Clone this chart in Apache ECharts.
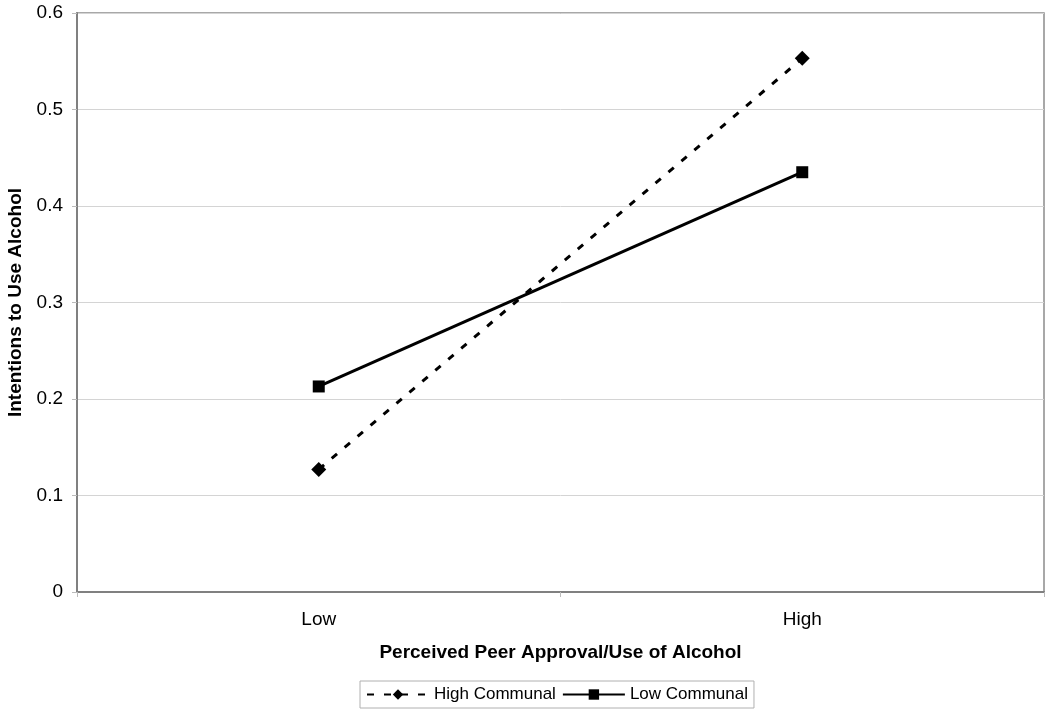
<!DOCTYPE html>
<html>
<head>
<meta charset="utf-8">
<script src="https://cdn.jsdelivr.net/npm/echarts@6/dist/echarts.min.js"></script>
<style>html,body{margin:0;padding:0;background:#fff}#c{width:1050px;height:713px}</style>
</head>
<body>
<div id="c"></div>
<script>
const categories = ['Low', 'High'];
const highCommunal = [0.127, 0.553];
const lowCommunal = [0.213, 0.435];
const seriesNames = ['High Communal', 'Low Communal'];
const xTitle = 'Perceived Peer Approval/Use of Alcohol';
const yTitle = 'Intentions to Use Alcohol';

const chart = echarts.init(document.getElementById('c'));
const font = 'Liberation Sans, Arial, sans-serif';
chart.setOption({
  animation: false,
  textStyle: {fontFamily: font},
  grid: {left: 77, right: 6, top: 13, bottom: 121, show: true, borderColor: '#8c8c8c', borderWidth: 1.5,
         containLabel: false, outerBoundsMode: 'none'},
  legend: {
    top: 681, left: 360,
    data: seriesNames,
    itemWidth: 62, itemHeight: 13, itemGap: 6,
    borderColor: '#b0b0b0', borderWidth: 1, padding: [5, 6, 5, 6],
    textStyle: {fontSize: 17, color: '#000', fontFamily: font}
  },
  xAxis: {
    type: 'category', data: categories, boundaryGap: true,
    name: xTitle, nameLocation: 'middle', nameGap: 51,
    nameTextStyle: {fontSize: 19, fontWeight: 'bold', color: '#000', fontFamily: font},
    axisLine: {lineStyle: {color: '#808080', width: 2}},
    axisTick: {show: true, length: 5, lineStyle: {color: '#bbb'}},
    axisLabel: {fontSize: 19, color: '#000', margin: 18, fontFamily: font},
    splitLine: {show: false}
  },
  yAxis: {
    type: 'value', min: 0, max: 0.6, interval: 0.1,
    name: yTitle, nameLocation: 'middle', nameGap: 50,
    nameTextStyle: {fontSize: 19, fontWeight: 'bold', color: '#000', fontFamily: font},
    axisLine: {show: true, lineStyle: {color: '#808080', width: 2}},
    axisTick: {show: true, length: 5, lineStyle: {color: '#bbb'}},
    axisLabel: {fontSize: 19, color: '#000', margin: 14, fontFamily: font},
    splitLine: {lineStyle: {color: '#d4d4d4', width: 1}}
  },
  series: [
    {
      name: seriesNames[0], type: 'line', data: highCommunal,
      symbol: 'diamond', symbolSize: 15,
      lineStyle: {color: '#000', width: 3, type: [7, 10]},
      itemStyle: {color: '#000'}
    },
    {
      name: seriesNames[1], type: 'line', data: lowCommunal,
      symbol: 'rect', symbolSize: 12,
      lineStyle: {color: '#000', width: 3},
      itemStyle: {color: '#000'}
    }
  ]
});
</script>
</body>
</html>
